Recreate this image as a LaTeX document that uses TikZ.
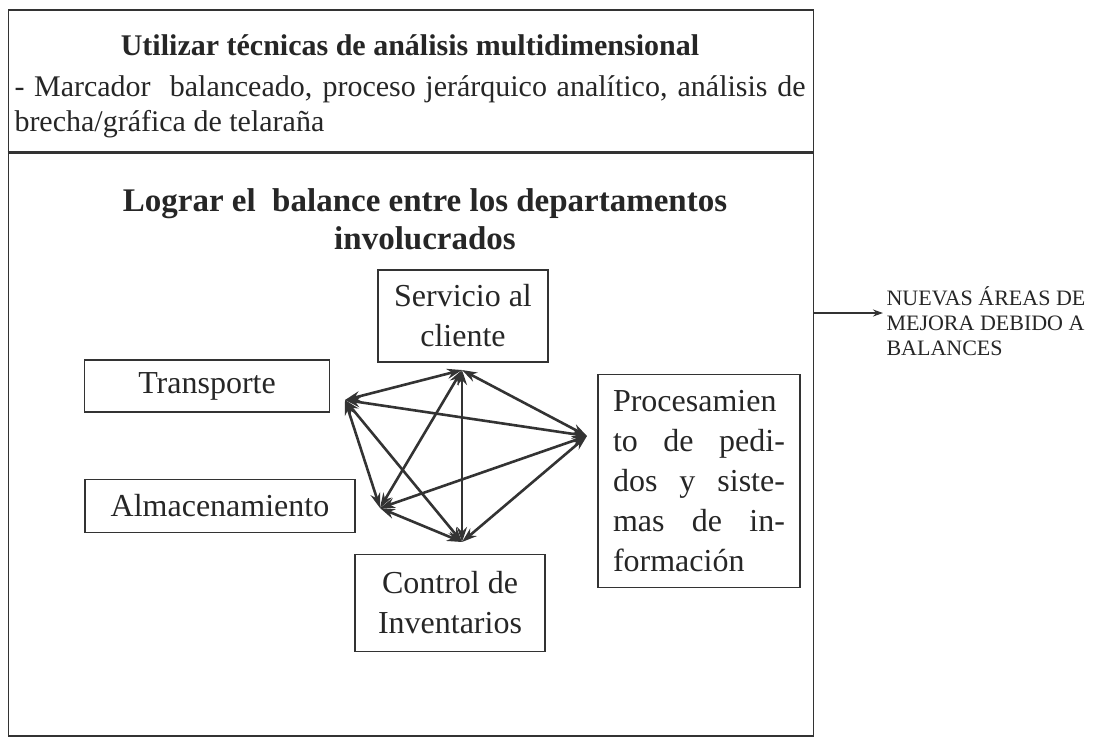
\documentclass[tikz,border=0pt]{standalone}
\usepackage{fontspec}
\setmainfont{Liberation Serif}
\usetikzlibrary{arrows.meta,positioning}
\definecolor{tinta}{HTML}{262626}
\definecolor{trazo}{HTML}{333333}
\tikzset{
  depto/.style={rectangle, draw=trazo, line width=1.4pt, text=tinta, align=center, font=\fontsize{32}{40}\selectfont},
  enlace/.style={{Stealth[length=15pt,width=10pt]}-{Stealth[length=15pt,width=10pt]}, line width=2.6pt, draw=trazo},
}
\begin{document}
\begin{tikzpicture}[x=1pt, y=-1pt]
\useasboundingbox (0,0) rectangle (1104,740);

\node (marco) [rectangle, draw=trazo, line width=1.6pt, minimum width=805, minimum height=726, inner sep=0pt] at (411,373) {};
\draw[trazo, line width=3pt] (marco.west |- 0,152) -- (marco.east |- 0,152);

\node (titulo) [font=\bfseries\fontsize{30}{36}\selectfont, text=tinta] at (410,45) {Utilizar técnicas de análisis multidimensional};
\node (tecnicas) [font=\fontsize{30}{35}\selectfont, text=tinta, text width=791, align=justify, inner sep=0pt] at (410,107) {- Marcador\ \ balanceado, proceso jerárquico analítico, análisis de\linebreak brecha/gráfica de telaraña};
\node (logro) [font=\bfseries\fontsize{33}{38}\selectfont, text=tinta, align=center] at (425,219) {Lograr el\ \ balance entre los departamentos\\involucrados};

\node (servicio) [depto, minimum width=170, minimum height=92] at (463,316) {Servicio al\\cliente};
\node (transporte) [depto, minimum width=245, minimum height=52] at (207,386) {Transporte};
\node (procesamiento) [depto, minimum width=202, minimum height=213, text width=172, align=justify] at (699,481) {Procesamien\linebreak to de pedi-\linebreak dos y siste-\linebreak mas de in-\linebreak formación};
\node (almacen) [depto, minimum width=270, minimum height=53] at (220,506) {Almacenamiento};
\node (control) [depto, minimum width=190, minimum height=97] at (450,603) {Control de\\Inventarios};

% puntos donde se juntan las flechas
\coordinate (pT) at (345,400);
\coordinate (pS) at (462,370);
\coordinate (pP) at (587,436);
\coordinate (pA) at (380,508);
\coordinate (pC) at (462,542);

\draw[enlace] (pT) -- (pS);
\draw[enlace] (pT) -- (pP);
\draw[enlace] (pT) -- (pA);
\draw[enlace] (pT) -- (pC);
\draw[enlace] (pS) -- (pP);
\draw[enlace] (pS) -- (pA);
\draw[enlace] (pS) -- (pC);
\draw[enlace] (pP) -- (pA);
\draw[enlace] (pP) -- (pC);
\draw[enlace] (pA) -- (pC);

\node (mejora) [font=\fontsize{22}{25}\selectfont, text=tinta, align=left, anchor=west] at (883,321) {NUEVAS ÁREAS DE\\MEJORA DEBIDO A\\BALANCES};
\draw[-{Stealth[length=10pt,width=7pt]}, trazo, line width=2pt] (marco.east |- 0,313) -- (mejora.west |- 0,313);

\end{tikzpicture}
\end{document}
